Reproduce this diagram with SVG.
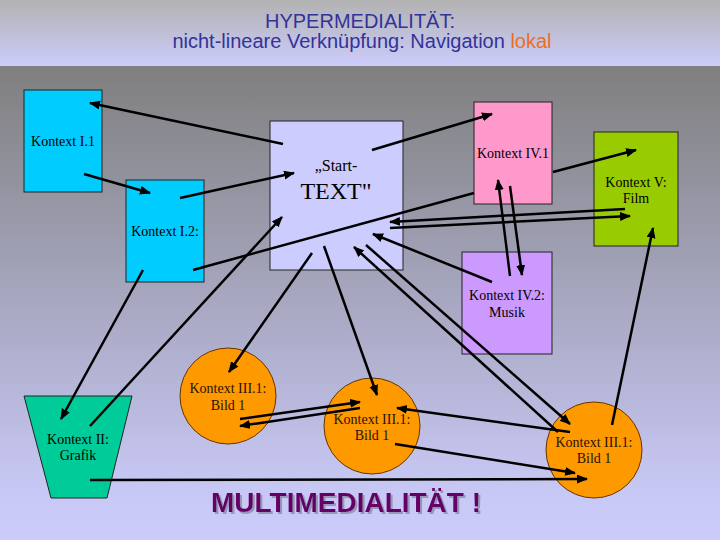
<svg xmlns="http://www.w3.org/2000/svg" width="720" height="540" viewBox="0 0 720 540">
<defs>
<linearGradient id="gTitle" x1="0" y1="0" x2="0" y2="1">
<stop offset="0" stop-color="#b2b2b2"/>
<stop offset="1" stop-color="#ccccfc"/>
</linearGradient>
<linearGradient id="gMain" x1="0" y1="0" x2="0" y2="1">
<stop offset="0" stop-color="#7f7f7f"/>
<stop offset="0.9" stop-color="#c8c8f6"/>
<stop offset="1" stop-color="#ccccfa"/>
</linearGradient>
<marker id="arr" markerUnits="userSpaceOnUse" markerWidth="12" markerHeight="10" refX="10" refY="4.5" orient="auto">
<path d="M0,0 L11,4.5 L0,9 z" fill="#000"/>
</marker>
<filter id="sh" x="-5%" y="-20%" width="110%" height="140%">
<feDropShadow dx="2" dy="2" stdDeviation="0.6" flood-color="#8a8aa8" flood-opacity="0.8"/>
</filter>
<style>
.t{font-family:"Liberation Serif","Times New Roman",serif;font-size:14px;fill:#000;text-anchor:middle}
.ct{font-family:"Liberation Serif","Times New Roman",serif;font-size:14px;fill:#2a1200;text-anchor:middle}
.nb{stroke:#222;stroke-width:1}
.cb{fill:#ff9900;stroke:#663300;stroke-width:1}
.ln{stroke:#000;stroke-width:2.5;fill:none}
.a{marker-end:url(#arr)}
.title{font-family:"Liberation Sans",Arial,sans-serif;font-size:20px;fill:#333399;text-anchor:middle}
</style>
</defs>
<rect x="0" y="0" width="720" height="66" fill="url(#gTitle)"/>
<rect x="0" y="66" width="720" height="474" fill="url(#gMain)"/>
<g id="title">
<text class="title" x="360" y="28">HYPERMEDIALITÄT:</text>
<text class="title" x="362" y="48">nicht-lineare Verknüpfung: Navigation <tspan fill="#ee6e1e">lokal</tspan></text>
</g>
<g id="k11"><rect class="nb" x="24" y="90" width="78" height="102" fill="#00ccff"/><text class="t" x="63" y="146">Kontext I.1</text></g>
<g id="k12"><rect class="nb" x="126" y="180" width="78" height="102" fill="#00ccff"/><text class="t" x="165" y="236">Kontext I.2:</text></g>
<g id="start"><rect class="nb" x="270" y="121" width="133" height="149" fill="#ccccff"/>
<text class="t" x="336" y="171" style="font-size:16px">„Start-</text>
<text class="t" x="336" y="199" style="font-size:24px">TEXT"</text></g>
<g id="k41"><rect class="nb" x="474" y="102" width="78" height="102" fill="#ff99cc"/><text class="t" x="513" y="158">Kontext IV.1</text></g>
<g id="k5"><rect class="nb" x="594" y="132" width="84" height="114" fill="#99cc00"/><text class="t" x="636" y="187">Kontext V:</text><text class="t" x="636" y="203">Film</text></g>
<g id="k42"><rect class="nb" x="462" y="252" width="90" height="102" fill="#cc99ff"/><text class="t" x="507" y="300">Kontext IV.2:</text><text class="t" x="507" y="317">Musik</text></g>
<g id="k2"><polygon class="nb" points="24,396 132,396 107,498 51,498" fill="#00cc99"/><text class="t" x="78" y="444">Kontext II:</text><text class="t" x="78" y="460">Grafik</text></g>
<g id="c1"><circle class="cb" cx="228" cy="396" r="48"/><text class="ct" x="228" y="393">Kontext III.1:</text><text class="ct" x="228" y="410">Bild 1</text></g>
<g id="c2"><circle class="cb" cx="372" cy="426" r="48"/><text class="ct" x="372" y="424">Kontext III.1:</text><text class="ct" x="372" y="440">Bild 1</text></g>
<g id="c3"><circle class="cb" cx="594" cy="450" r="48"/><text class="ct" x="594" y="447">Kontext III.1:</text><text class="ct" x="594" y="463">Bild 1</text></g>
<g id="connectors">
<line class="ln a" x1="283" y1="144" x2="90" y2="103"/>
<line class="ln a" x1="84" y1="174" x2="150" y2="193"/>
<line class="ln a" x1="180" y1="198" x2="294" y2="173"/>
<line class="ln" x1="193" y1="270" x2="474" y2="193"/>
<line class="ln a" x1="372" y1="150" x2="492" y2="114"/>
<line class="ln a" x1="553" y1="172" x2="636" y2="150"/>
<line class="ln a" x1="625" y1="209" x2="390" y2="222"/>
<line class="ln a" x1="390" y1="228" x2="630" y2="216"/>
<line class="ln a" x1="510" y1="276" x2="498" y2="180"/>
<line class="ln a" x1="510" y1="186" x2="522" y2="275"/>
<line class="ln a" x1="492" y1="282" x2="373" y2="234"/>
<line class="ln a" x1="558" y1="432" x2="354" y2="247"/>
<line class="ln a" x1="366" y1="245" x2="570" y2="424"/>
<line class="ln a" x1="570" y1="432" x2="397" y2="408"/>
<line class="ln a" x1="395" y1="444" x2="575" y2="473"/>
<line class="ln a" x1="90" y1="480" x2="587" y2="479"/>
<line class="ln a" x1="612" y1="425" x2="653" y2="228"/>
<line class="ln a" x1="240" y1="419" x2="360" y2="402"/>
<line class="ln a" x1="360" y1="408" x2="240" y2="426"/>
<line class="ln a" x1="312" y1="253" x2="229" y2="372"/>
<line class="ln a" x1="324" y1="246" x2="377" y2="395"/>
<line class="ln a" x1="143" y1="270" x2="61" y2="419"/>
<line class="ln a" x1="90" y1="426" x2="282" y2="217"/>
</g>
<text x="346" y="512" filter="url(#sh)" style="font-family:'Liberation Sans',Arial,sans-serif;font-size:28px;font-weight:bold;fill:#660066;text-anchor:middle">MULTIMEDIALITÄT !</text>
</svg>
